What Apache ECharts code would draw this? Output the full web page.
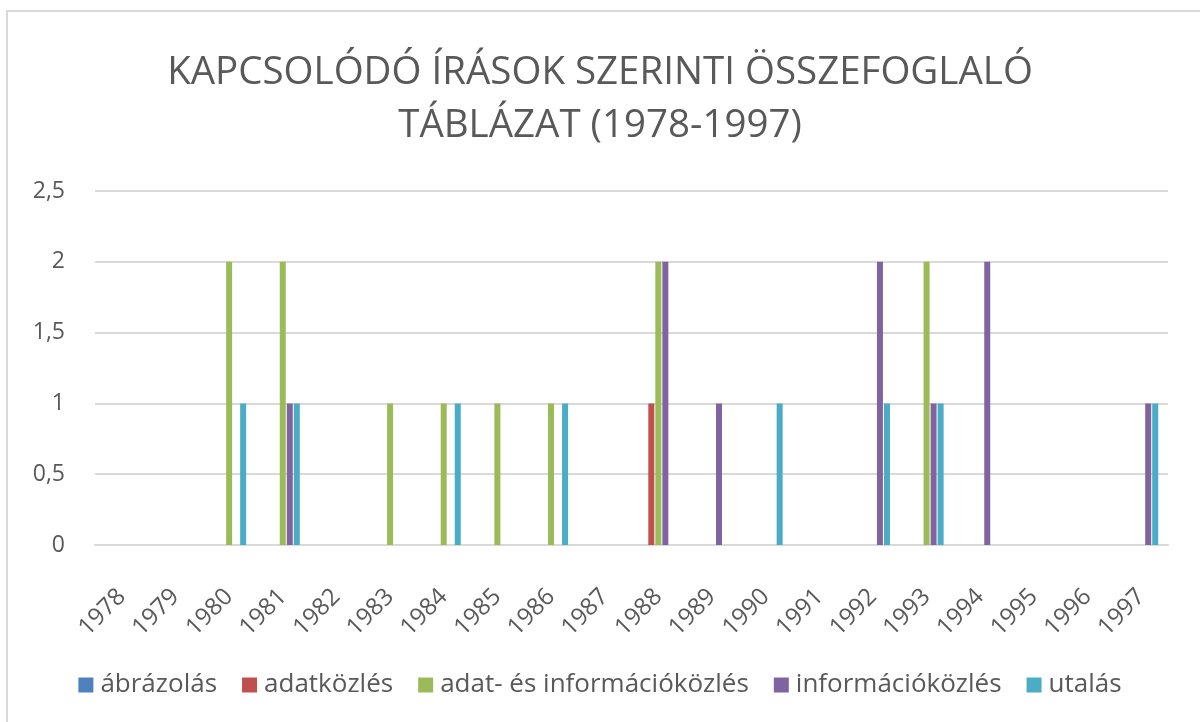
<!DOCTYPE html>
<html>
<head>
<meta charset="utf-8">
<script src="https://cdn.jsdelivr.net/npm/echarts@6/dist/echarts.min.js"></script>
<style>
  html, body { margin: 0; padding: 0; background: #fff; }
  #chart { width: 1200px; height: 722px; }
</style>
</head>
<body>
<div id="chart"></div>
<script>
const years = ['1978', '1979', '1980', '1981', '1982', '1983', '1984', '1985', '1986', '1987',
  '1988', '1989', '1990', '1991', '1992', '1993', '1994', '1995', '1996', '1997']

const seriesNames = ['ábrázolás', 'adatközlés', 'adat- és információközlés', 'információközlés', 'utalás']
const seriesColors = ['#4f81bd', '#c0504d', '#9bbb59', '#8064a2', '#4bacc6']

//                  78 79 80 81 82 83 84 85 86 87 88 89 90 91 92 93 94 95 96 97
const abrazolas =   [0, 0, 0, 0, 0, 0, 0, 0, 0, 0, 0, 0, 0, 0, 0, 0, 0, 0, 0, 0]
const adatkozles =  [0, 0, 0, 0, 0, 0, 0, 0, 0, 0, 1, 0, 0, 0, 0, 0, 0, 0, 0, 0]
const adatEsInfo =  [0, 0, 2, 2, 0, 1, 1, 1, 1, 0, 2, 0, 0, 0, 0, 2, 0, 0, 0, 0]
const infokozles =  [0, 0, 0, 1, 0, 0, 0, 0, 0, 0, 2, 1, 0, 0, 2, 1, 2, 0, 0, 1]
const utalas =      [0, 0, 1, 1, 0, 0, 1, 0, 1, 0, 0, 0, 1, 0, 1, 1, 0, 0, 0, 1]

const seriesData = [abrazolas, adatkozles, adatEsInfo, infokozles, utalas]

const textColor = '#595959'
const fontFamily = '"Open Sans", "Noto Sans", sans-serif'

const chart = echarts.init(document.getElementById('chart'))

chart.setOption({
  animation: false,
  color: seriesColors,
  textStyle: { fontFamily },
  title: {
    text: 'KAPCSOLÓDÓ ÍRÁSOK SZERINTI ÖSSZEFOGLALÓ\nTÁBLÁZAT (1978-1997)',
    left: 'center',
    top: 42,
    textStyle: {
      color: textColor,
      fontSize: 38.5,
      fontWeight: 'normal',
      lineHeight: 53,
      fontFamily,
    },
  },
  graphic: [
    {
      type: 'rect',
      shape: { x: 7, y: 11, width: 1220, height: 740 },
      style: { fill: 'none', stroke: '#d9d9d9', lineWidth: 2 },
      silent: true,
    },
  ],
  legend: {
    top: 667,
    left: 'center',
    icon: 'rect',
    itemWidth: 15,
    itemHeight: 15,
    itemGap: 25,
    data: seriesNames,
    textStyle: { color: textColor, fontSize: 26, fontFamily, padding: [0, 0, 0, 2] },
  },
  grid: {
    left: 95,
    right: 32,
    top: 191,
    bottom: 177,
    containLabel: false,
  },
  xAxis: {
    type: 'category',
    data: years,
    axisTick: { show: false },
    axisLine: { lineStyle: { color: '#d9d9d9', width: 2 } },
    axisLabel: {
      color: textColor,
      fontSize: 24,
      rotate: 45,
      margin: 48,
      interval: 0,
    },
  },
  yAxis: {
    type: 'value',
    min: 0,
    max: 2.5,
    interval: 0.5,
    axisLine: { show: false },
    axisTick: { show: false },
    axisLabel: {
      color: textColor,
      fontSize: 23,
      margin: 30,
      formatter: v => String(v).replace('.', ','),
    },
    splitLine: { lineStyle: { color: '#d9d9d9', width: 2 } },
  },
  series: seriesNames.map((name, i) => ({
    name,
    type: 'bar',
    barWidth: 6,
    barGap: '17%',
    data: seriesData[i],
  })),
})
</script>
</body>
</html>
